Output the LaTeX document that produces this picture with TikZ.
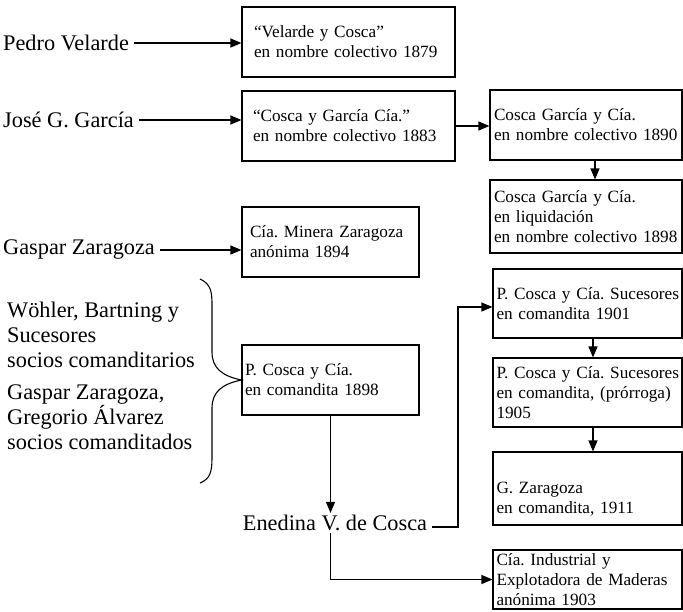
\documentclass[tikz,border=0pt]{standalone}
\usepackage{fontspec}
\setmainfont{Liberation Serif}
\usetikzlibrary{arrows.meta}
\begin{document}
\frenchspacing
\begin{tikzpicture}[x=1pt,y=-1pt,
  box/.style={draw, line width=1.1pt, align=left, inner xsep=2pt, inner ysep=0pt,
    font=\fontsize{17.2}{20}\selectfont\frenchspacing, anchor=center},
  lab/.style={align=left, inner sep=2pt, font=\fontsize{22.3}{25}\selectfont},
  arr/.style={line width=1.1pt, -{Triangle[length=11pt,width=9pt]}},
  brace/.style={line width=1.1pt}]
\useasboundingbox (0,0) rectangle (683,611);

% boxes
\node[box, minimum width=213pt, minimum height=70pt, text width=189pt] (b1) at (348.5,42)
  {\mbox{“Velarde y Cosca”}\\\mbox{en nombre colectivo 1879}};
\node[box, minimum width=213pt, minimum height=70pt, text width=191pt] (b2) at (348.5,126)
  {\mbox{“Cosca y García Cía.”}\\\mbox{en nombre colectivo 1883}};
\node[box, minimum width=192pt, minimum height=70pt, text width=184pt] (b3) at (586,125)
  {\mbox{Cosca García y Cía.}\\\mbox{en nombre colectivo 1890}};
\node[box, minimum width=192pt, minimum height=73pt, text width=184pt] (b4) at (586,216.5)
  {\mbox{Cosca García y Cía.}\\\mbox{en liquidación}\\\mbox{en nombre colectivo 1898}};
\node[box, minimum width=177pt, minimum height=70pt, text width=161pt] (bm) at (330.5,242)
  {\mbox{Cía. Minera Zaragoza}\\\mbox{anónima 1894}};
\node[box, minimum width=177pt, minimum height=70pt, text width=171pt] (bpc) at (330.5,380)
  {\mbox{P. Cosca y Cía.}\\\mbox{en comandita 1898}};
\node[box, minimum width=189pt, minimum height=69pt, text width=182pt] (b5) at (587.5,303.5)
  {\mbox{P. Cosca y Cía. Sucesores}\\\mbox{en comandita 1901}};
\node[box, minimum width=189pt, minimum height=69pt, text width=182pt] (b6) at (587.5,392.5)
  {\mbox{P. Cosca y Cía. Sucesores}\\\mbox{en comandita, (prórroga)}\\\mbox{1905}};
\node[box, minimum width=189pt, minimum height=73pt, text width=182pt, text height=33pt] (b7) at (587.5,488.5)
  {\mbox{G. Zaragoza}\\\mbox{en comandita, 1911}};
\node[box, minimum width=189pt, minimum height=59pt, text width=182pt] (b8) at (587.5,579.5)
  {\mbox{Cía. Industrial y}\\\mbox{Explotadora de Maderas}\\\mbox{anónima 1903}};

% left labels
\node[lab, anchor=west] (pv) at (1,43) {Pedro Velarde};
\node[lab, anchor=west] (jg) at (1,120) {José G. García};
\node[lab, anchor=west] (gz) at (1,250) {Gaspar Zaragoza};
\node[lab, anchor=west] (wb) at (5,335) {Wöhler, Bartning y\\Sucesores\\socios comanditarios};
\node[lab, anchor=west] (gg) at (5,417) {Gaspar Zaragoza,\\Gregorio Álvarez\\socios comanditados};
\node[lab] (en) at (335,523) {Enedina V. de Cosca};

% connectors
\draw[arr, shorten <=3pt] (pv.east) -- (pv.east -| b1.west);
\draw[arr, shorten <=3pt] (jg.east) -- (jg.east -| b2.west);
\draw[arr, shorten <=3pt] (gz.east) -- (gz.east -| bm.west);
\draw[arr] (b2.east) -- (b2.east -| b3.west);
\draw[arr] ([xshift=9pt]b3.south) -- ([xshift=9pt]b4.north);
\draw[arr] ([xshift=5.5pt]b5.south) -- ([xshift=5.5pt]b6.north);
\draw[arr] ([xshift=5.5pt]b6.south) -- ([xshift=5.5pt]b7.north);
\draw[arr] (bpc.south) -- (bpc.south |- en.north);
\coordinate (j1) at (458,307);
\draw[arr, shorten <=3pt] ([yshift=-4pt]en.east) -| (j1) -- (j1 -| b5.west);
\draw[arr] (bpc.south |- en.south) |- (b8.west);

% brace
\draw[brace] (200,279) .. controls (211,284) and (212,292) .. (212,305)
  -- (212,352) .. controls (212,368) and (222,376) .. (bpc.west)
  .. controls (222,384) and (212,392) .. (212,408)
  -- (212,458) .. controls (212,472) and (210,479) .. (200,483);
\end{tikzpicture}
\end{document}
